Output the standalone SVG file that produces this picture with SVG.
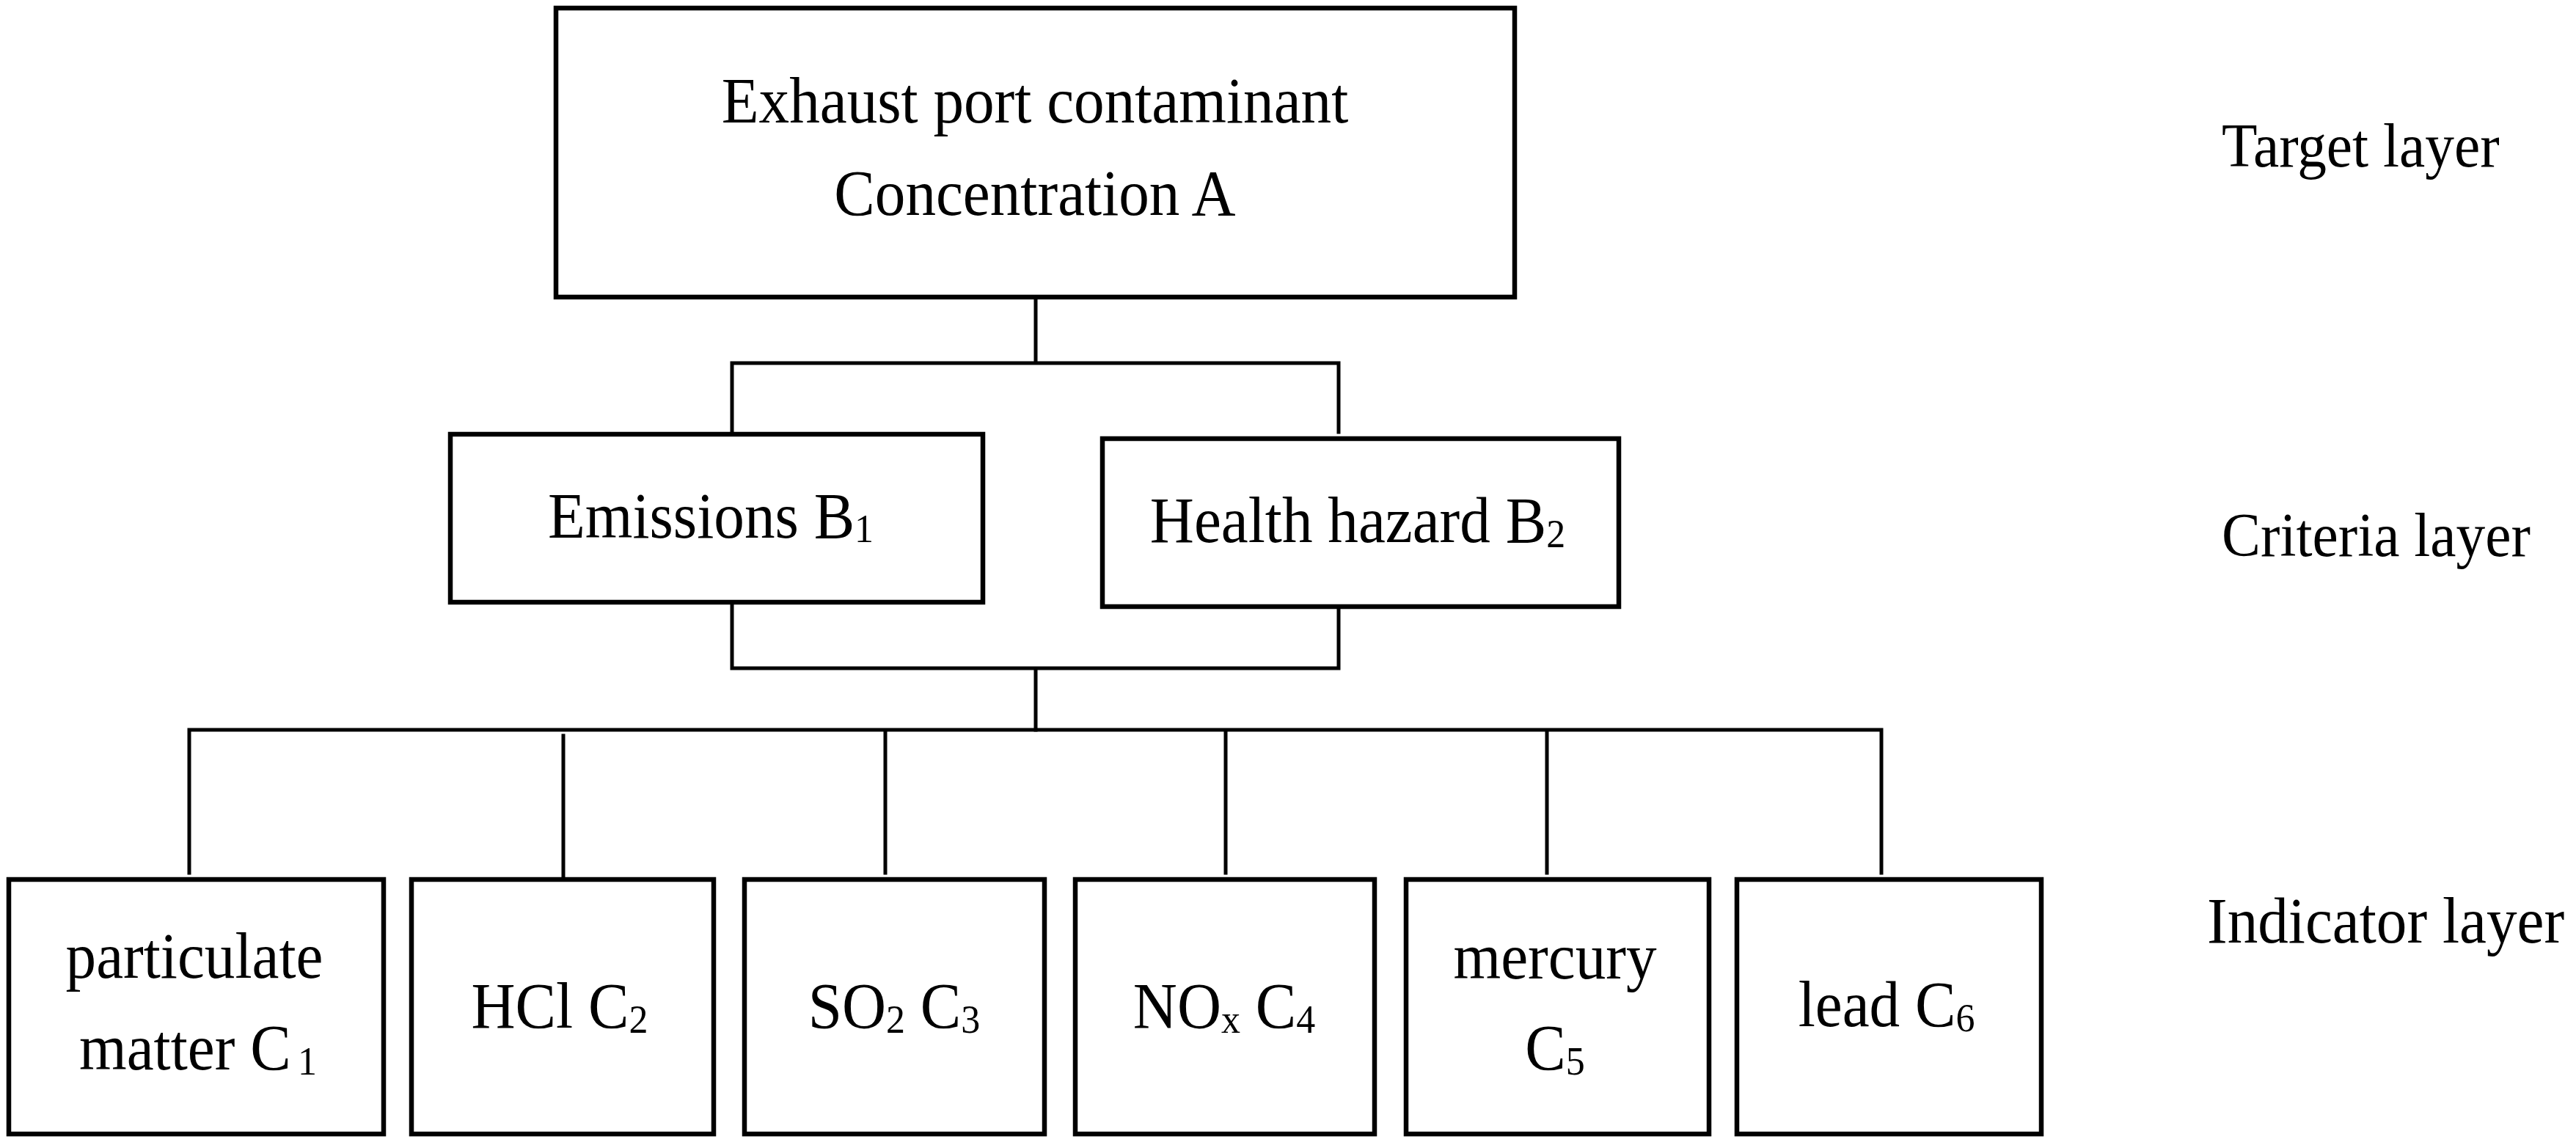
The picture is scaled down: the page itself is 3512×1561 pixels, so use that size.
<svg xmlns="http://www.w3.org/2000/svg" width="3512" height="1561" viewBox="0 0 3512 1561">
<style>
.box{fill:#fff;stroke:#000;stroke-width:6.5}
.ln{fill:none;stroke:#000;stroke-width:5;stroke-linecap:square}
.t{font-family:"Liberation Serif","Times New Roman",serif;font-size:88px;fill:#000}
.m{text-anchor:middle}
.s{font-size:55px}
.lbl{font-family:"Liberation Serif","Times New Roman",serif;font-size:84px;fill:#000}
</style>
<rect width="3512" height="1561" fill="#fff"/>
<g id="connectors">
<path class="ln" d="M1412 405V495M998 495H1825M998 495V591M1825 495V589"/>
<path class="ln" d="M998 821V911H1825V827M1412 911V995"/>
<path class="ln" d="M258 995H2565M258 995V1190M768 1003V1199M1207 995V1190M1671 995V1190M2109 995V1190M2565 995V1190"/>
</g>
<g id="nodeA">
<rect class="box" x="758" y="11" width="1307" height="394"/>
<text class="t m" transform="translate(1411 167) scale(0.945 1)">Exhaust port contaminant</text>
<text class="t m" transform="translate(1411 293) scale(0.945 1)">Concentration A</text>
</g>
<g id="nodeB1">
<rect class="box" x="614" y="592" width="726" height="229"/>
<text class="t m" transform="translate(969 733) scale(0.945 1)">Emissions B<tspan class="s" font-size="42" dy="6">1</tspan></text>
</g>
<g id="nodeB2">
<rect class="box" x="1503" y="598" width="704" height="229"/>
<text class="t m" transform="translate(1851 739) scale(0.945 1)">Health hazard B<tspan class="s" font-size="50" dy="7">2</tspan></text>
</g>
<g id="nodeC1">
<rect class="box" x="12" y="1199" width="511" height="347"/>
<text class="t m" transform="translate(265 1333) scale(0.945 1)">particulate</text>
<text class="t m" transform="translate(270 1458) scale(0.945 1)">matter C<tspan class="s" font-size="40" dx="10" dy="7">1</tspan></text>
</g>
<g id="nodeC2">
<rect class="box" x="561" y="1199" width="412" height="347"/>
<text class="t m" transform="translate(763 1401) scale(0.945 1)">HCl C<tspan class="s" font-size="58" dy="7">2</tspan></text>
</g>
<g id="nodeC3">
<rect class="box" x="1015" y="1199" width="409" height="347"/>
<text class="t m" transform="translate(1219 1401) scale(0.945 1)">SO<tspan class="s" dy="7">2</tspan><tspan dy="-7"> C</tspan><tspan class="s" dy="7">3</tspan></text>
</g>
<g id="nodeC4">
<rect class="box" x="1466" y="1199" width="408" height="347"/>
<text class="t m" transform="translate(1669 1401) scale(0.945 1)">NO<tspan class="s" font-size="60" dy="7">x</tspan><tspan dy="-7"> C</tspan><tspan class="s" font-size="58" dy="7">4</tspan></text>
</g>
<g id="nodeC5">
<rect class="box" x="1917" y="1199" width="413" height="347"/>
<text class="t m" transform="translate(2120 1334) scale(0.945 1)">mercury</text>
<text class="t m" transform="translate(2120 1458) scale(0.945 1)">C<tspan class="s" dy="7">5</tspan></text>
</g>
<g id="nodeC6">
<rect class="box" x="2368" y="1199" width="415" height="347"/>
<text class="t m" transform="translate(2572 1399) scale(0.945 1)">lead C<tspan class="s" font-size="48" dy="7">6</tspan></text>
</g>
<g id="layerLabels">
<text class="lbl" transform="translate(3029 227) scale(0.945 1)">Target layer</text>
<text class="lbl" transform="translate(3029 758) scale(0.945 1)">Criteria layer</text>
<text class="t" transform="translate(3009 1285) scale(0.945 1)">Indicator layer</text>
</g>
</svg>
